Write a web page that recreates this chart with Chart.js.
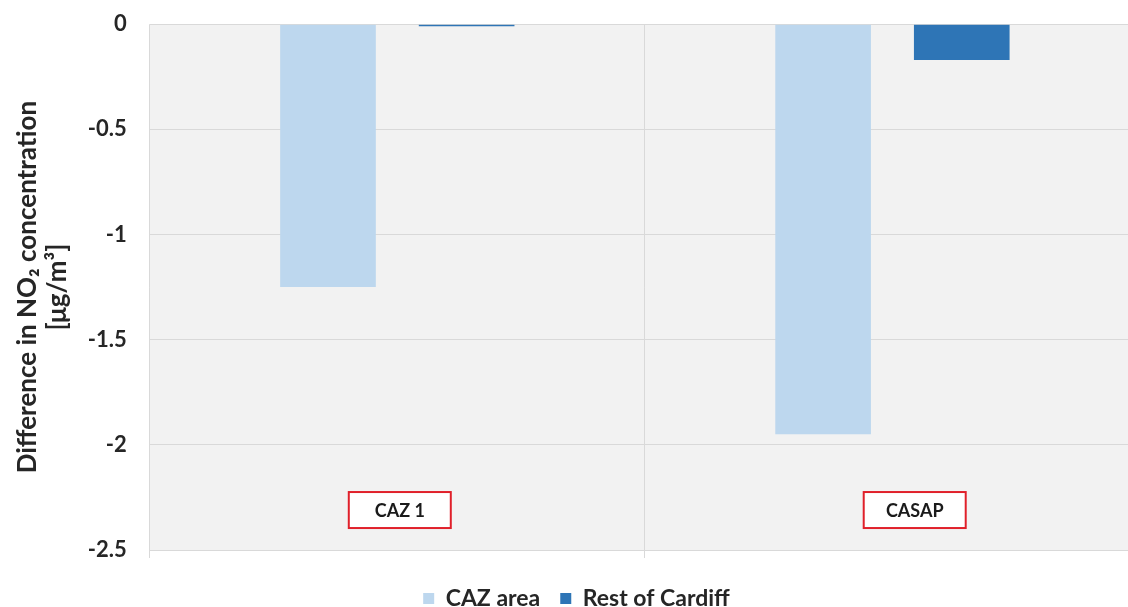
<!DOCTYPE html>
<html>
<head>
<meta charset="utf-8">
<script src="https://cdn.jsdelivr.net/npm/chart.js@4/dist/chart.umd.min.js"></script>
<style>
  html, body { margin: 0; padding: 0; background: #fff; overflow: hidden; width: 1128px; height: 607px; }
  #wrap { position: relative; top: -12px; width: 1140px; height: 632px; }
</style>
</head>
<body>
<div id="wrap"><canvas id="no2Chart"></canvas></div>
<script>
// data
const categories   = ['CAZ 1', 'CASAP'];
const cazArea      = [-1.25, -1.95];
const restCardiff  = [-0.01, -0.17];
const yTicks       = [0, -0.5, -1, -1.5, -2, -2.5];
const yTickLabels  = ['0', '-0.5', '-1', '-1.5', '-2', '-2.5'];
const boxLabels    = ['CAZ 1', 'CASAP'];

// colours
const LIGHT_BLUE = '#BDD7EE';
const DARK_BLUE  = '#2E75B6';
const PLOT_BG    = '#F2F2F2';
const GRID       = '#D9D9D9';
const TEXT       = '#262626';
const FONT       = 'Lato, "Open Sans", sans-serif';

// grey fill behind the plot area
const plotBackground = {
    id: 'plotBackground',
    beforeDraw(chart) {
        const { ctx, chartArea: a } = chart;
        ctx.save();
        ctx.fillStyle = PLOT_BG;
        ctx.fillRect(a.left, a.top, a.right - a.left, a.bottom - a.top);
        ctx.restore();
    }
};

// red outlined label boxes near the bottom of each group
const labelBoxes = {
    id: 'labelBoxes',
    afterDatasetsDraw(chart) {
        const { ctx, scales } = chart;
        const shift = [0.005, 0.045]; // fraction of a category
        ctx.save();
        ctx.font = 'bold 18px ' + FONT;
        ctx.textAlign = 'center';
        ctx.textBaseline = 'middle';
        boxLabels.forEach((txt, i) => {
            const cx = scales.x.getPixelForValue(i + shift[i]);
            const cy = scales.y.getPixelForValue(-2.31);
            const w = 102, h = 36;
            ctx.fillStyle = '#FFFFFF';
            ctx.fillRect(cx - w / 2, cy - h / 2, w, h);
            ctx.strokeStyle = '#E0202A';
            ctx.lineWidth = 2;
            ctx.strokeRect(cx - w / 2, cy - h / 2, w, h);
            ctx.fillStyle = '#1A1A1A';
            ctx.fillText(txt, cx, cy + 1);
        });
        ctx.restore();
    }
};

new Chart(document.getElementById('no2Chart'), {
    type: 'bar',
    data: {
        labels: categories,
        datasets: [
            { label: 'CAZ area', data: cazArea, backgroundColor: LIGHT_BLUE,
              categoryPercentage: 0.56, barPercentage: 0.69 },
            { label: 'Rest of Cardiff', data: restCardiff, backgroundColor: DARK_BLUE,
              categoryPercentage: 0.56, barPercentage: 0.69 }
        ]
    },
    options: {
        responsive: true,
        maintainAspectRatio: false,
        animation: false,
        layout: { padding: { top: 13, right: 0, bottom: 0, left: 13 } },
        plugins: {
            legend: {
                position: 'bottom',
                labels: {
                    color: TEXT,
                    boxWidth: 11,
                    boxHeight: 11,
                    padding: 20,
                    font: { family: FONT, size: 23, weight: 'bold' }
                }
            },
            tooltip: { enabled: false }
        },
        scales: {
            x: {
                grid: { color: GRID, offset: true },
                border: { display: false },
                ticks: { display: false },
                afterFit: s => { s.height += 9; } // room between plot and legend
            },
            y: {
                min: -2.5,
                max: 0,
                afterBuildTicks: axis => { axis.ticks = yTicks.map(v => ({ value: v })); },
                grid: { color: GRID, drawTicks: false },
                border: { display: false },
                ticks: {
                    color: TEXT,
                    padding: 23,
                    font: { family: FONT, size: 22, weight: 'bold' },
                    callback: (v, i) => yTickLabels[i]
                },
                title: {
                    display: true,
                    text: ['Difference in NO\u2082 concentration', '[\u03BCg/m\u00B3]'],
                    color: TEXT,
                    font: { family: FONT, size: 26, weight: 'bold', lineHeight: 1.15 },
                    padding: { top: 0, bottom: -8 }
                }
            }
        }
    },
    plugins: [plotBackground, labelBoxes]
});
</script>
</body>
</html>
